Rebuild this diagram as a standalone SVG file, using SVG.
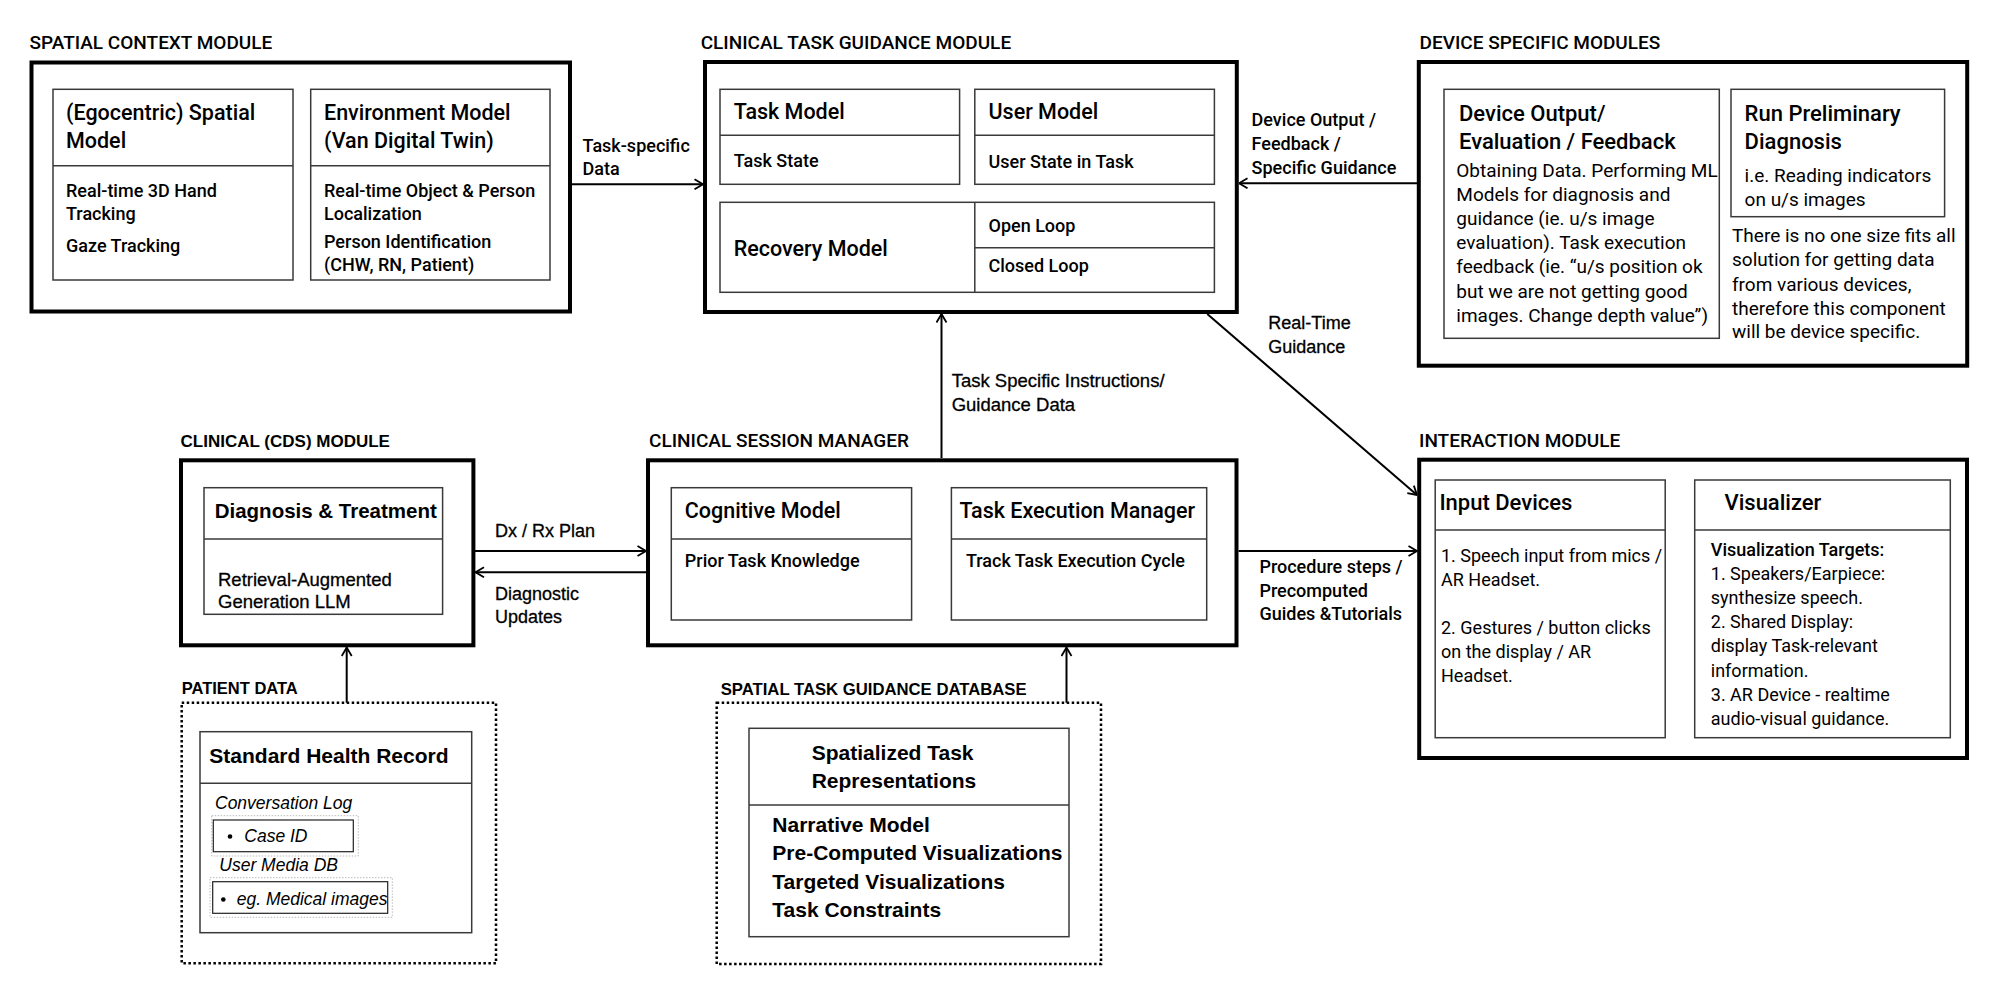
<svg xmlns="http://www.w3.org/2000/svg" width="2000" height="995" viewBox="0 0 2000 995">
<defs>
<marker id="arr" markerUnits="userSpaceOnUse" viewBox="0 0 10 12" refX="9.5" refY="6" markerWidth="10" markerHeight="12" orient="auto">
<path d="M1,1 L9.5,6 L1,11" fill="none" stroke="#000" stroke-width="1.8"/>
</marker>
</defs>
<style>
.outer{fill:#fff;stroke:#000;stroke-width:4}
.inner{fill:#fff;stroke:#3a3a3a;stroke-width:1.5}
.div{stroke:#3a3a3a;stroke-width:1.5;fill:none}
.dotted{fill:none;stroke:#000;stroke-width:2.5;stroke-dasharray:2.5 2.5}
.faint{fill:none;stroke:#bbb;stroke-width:1;stroke-dasharray:1.5 1.5}
.conn{stroke:#000;stroke-width:2;fill:none;marker-end:url(#arr)}
text{fill:#000}
.A{font-family:Roboto,"Liberation Sans",Arial,sans-serif}
.B{font-family:"Liberation Sans",Arial,Helvetica,sans-serif}
.ttl{font-size:19px;font-weight:500}
.ttlB{font-size:17px;font-weight:700}
.h{font-size:21.5px;font-weight:500}
.b{font-size:18px;font-weight:500}
.bl{font-size:19px;font-weight:400}
.lbl{font-size:18px;font-weight:500}
.hB{font-size:20.5px;font-weight:700}
.bB{font-size:18.5px;font-weight:400;stroke:#000;stroke-width:0.3}
.lB{font-size:18px;font-weight:400;stroke:#000;stroke-width:0.3}
.it{font-size:17.5px;font-style:italic;font-weight:400}
</style>

<g id="spatial-context-module">
<text class="A ttl" x="29.5" y="49.3">SPATIAL CONTEXT MODULE</text>
<rect class="outer" x="31.5" y="62.5" width="538.5" height="249"/>
<g id="egocentric-spatial-model">
<rect class="inner" x="53" y="89.3" width="240" height="190.7"/>
<line class="div" x1="53" y1="165.7" x2="293" y2="165.7"/>
<text class="A h" x="66" y="120">(Egocentric) Spatial</text>
<text class="A h" x="66" y="148.3">Model</text>
<text class="A b" x="66" y="196.7">Real-time 3D Hand</text>
<text class="A b" x="66" y="220">Tracking</text>
<text class="A b" x="66" y="252">Gaze Tracking</text>
</g>
<g id="environment-model">
<rect class="inner" x="310.7" y="89.3" width="239.3" height="190.7"/>
<line class="div" x1="310.7" y1="165.7" x2="550" y2="165.7"/>
<text class="A h" x="324" y="120">Environment Model</text>
<text class="A h" x="324" y="148.3">(Van Digital Twin)</text>
<text class="A b" x="324" y="196.7">Real-time Object &amp; Person</text>
<text class="A b" x="324" y="220">Localization</text>
<text class="A b" x="324" y="247.7">Person Identification</text>
<text class="A b" x="324" y="270.7">(CHW, RN, Patient)</text>
</g>
</g>

<g id="clinical-task-guidance-module">
<text class="A ttl" x="700.7" y="49.3">CLINICAL TASK GUIDANCE MODULE</text>
<rect class="outer" x="705" y="62" width="531.8" height="250"/>
<g id="task-model">
<rect class="inner" x="720" y="89.3" width="239.6" height="95"/>
<line class="div" x1="720" y1="135.3" x2="959.6" y2="135.3"/>
<text class="A h" x="733.7" y="119.3">Task Model</text>
<text class="A b" x="733.7" y="167.3">Task State</text>
</g>
<g id="user-model">
<rect class="inner" x="974.8" y="89.3" width="239.6" height="95"/>
<line class="div" x1="974.8" y1="135.3" x2="1214.4" y2="135.3"/>
<text class="A h" x="988.5" y="119.3">User Model</text>
<text class="A b" x="988.5" y="168">User State in Task</text>
</g>
<g id="recovery-model">
<rect class="inner" x="720" y="202.3" width="494.4" height="90"/>
<line class="div" x1="974.8" y1="202.3" x2="974.8" y2="292.3"/>
<line class="div" x1="974.8" y1="247.7" x2="1214.4" y2="247.7"/>
<text class="A h" x="733.7" y="256">Recovery Model</text>
<text class="A b" x="988.5" y="231.7">Open Loop</text>
<text class="A b" x="988.5" y="271.7">Closed Loop</text>
</g>
</g>

<g id="device-specific-modules">
<text class="A ttl" x="1419.5" y="49.3">DEVICE SPECIFIC MODULES</text>
<rect class="outer" x="1418.8" y="62" width="548.4" height="303.7"/>
<g id="device-output-evaluation">
<rect class="inner" x="1444" y="89.3" width="275.3" height="249"/>
<text class="A h" x="1459" y="120.7" style="font-size:22px">Device Output/</text>
<text class="A h" x="1459" y="149.3" style="font-size:22px">Evaluation / Feedback</text>
<text class="A bl" x="1456.3" y="176.7">Obtaining Data. Performing ML</text>
<text class="A bl" x="1456.3" y="201">Models for diagnosis and</text>
<text class="A bl" x="1456.3" y="225">guidance (ie. u/s image</text>
<text class="A bl" x="1456.3" y="249.3">evaluation). Task execution</text>
<text class="A bl" x="1456.3" y="273.3">feedback (ie. “u/s position ok</text>
<text class="A bl" x="1456.3" y="297.7">but we are not getting good</text>
<text class="A bl" x="1456.3" y="321.7">images. Change depth value”)</text>
</g>
<g id="run-preliminary-diagnosis">
<rect class="inner" x="1731" y="89.3" width="213.6" height="127.4"/>
<text class="A h" x="1744.6" y="120.7" style="font-size:22px">Run Preliminary</text>
<text class="A h" x="1744.6" y="149.3" style="font-size:22px">Diagnosis</text>
<text class="A bl" x="1744.6" y="182.3">i.e. Reading indicators</text>
<text class="A bl" x="1744.6" y="205.7">on u/s images</text>
</g>
<text class="A bl" x="1732" y="242.3">There is no one size fits all</text>
<text class="A bl" x="1732" y="266">solution for getting data</text>
<text class="A bl" x="1732" y="290.7">from various devices,</text>
<text class="A bl" x="1732" y="315">therefore this component</text>
<text class="A bl" x="1732" y="338.3">will be device specific.</text>
</g>

<g id="clinical-cds-module">
<text class="B ttlB" x="180.6" y="446.7">CLINICAL (CDS) MODULE</text>
<rect class="outer" x="181" y="460.3" width="292.4" height="185"/>
<g id="diagnosis-treatment">
<rect class="inner" x="204" y="487.7" width="238.6" height="126.6"/>
<line class="div" x1="204" y1="539" x2="442.6" y2="539"/>
<text class="B hB" x="214.7" y="518.3">Diagnosis &amp; Treatment</text>
<text class="B bB" x="218" y="585.7">Retrieval-Augmented</text>
<text class="B bB" x="218" y="608.3">Generation LLM</text>
</g>
</g>

<g id="clinical-session-manager">
<text class="A ttl" x="649" y="446.7">CLINICAL SESSION MANAGER</text>
<rect class="outer" x="648" y="460.3" width="588.5" height="185"/>
<g id="cognitive-model">
<rect class="inner" x="671.3" y="487.7" width="240.3" height="132.3"/>
<line class="div" x1="671.3" y1="539" x2="911.6" y2="539"/>
<text class="A h" x="684.8" y="518.3">Cognitive Model</text>
<text class="A b" x="684.8" y="567.3">Prior Task Knowledge</text>
</g>
<g id="task-execution-manager">
<rect class="inner" x="951.4" y="487.7" width="255.3" height="132.3"/>
<line class="div" x1="951.4" y1="539" x2="1206.7" y2="539"/>
<text class="A h" x="959.4" y="518.3">Task Execution Manager</text>
<text class="A b" x="965.9" y="567.3">Track Task Execution Cycle</text>
</g>
</g>

<g id="interaction-module">
<text class="A ttl" x="1419" y="446.7">INTERACTION MODULE</text>
<rect class="outer" x="1419.2" y="459.7" width="547.8" height="298.3"/>
<g id="input-devices">
<rect class="inner" x="1435.2" y="480" width="230" height="257.7"/>
<line class="div" x1="1435.2" y1="530" x2="1665.2" y2="530"/>
<text class="A h" x="1439.4" y="510" style="font-size:22px">Input Devices</text>
<text class="A bl" x="1441" y="561.7" style="font-size:18px">1. Speech input from mics /</text>
<text class="A bl" x="1441" y="585.7" style="font-size:18px">AR Headset.</text>
<text class="A bl" x="1441" y="634.3" style="font-size:18px">2. Gestures / button clicks</text>
<text class="A bl" x="1441" y="658.3" style="font-size:18px">on the display / AR</text>
<text class="A bl" x="1441" y="682.3" style="font-size:18px">Headset.</text>
</g>
<g id="visualizer">
<rect class="inner" x="1694.7" y="480" width="255.6" height="257.7"/>
<line class="div" x1="1694.7" y1="530" x2="1950.3" y2="530"/>
<text class="A h" x="1724.5" y="510" style="font-size:22px">Visualizer</text>
<text class="A b" x="1710.8" y="556">Visualization Targets:</text>
<text class="A bl" x="1710.8" y="580" style="font-size:18px">1. Speakers/Earpiece:</text>
<text class="A bl" x="1710.8" y="604.3" style="font-size:18px">synthesize speech.</text>
<text class="A bl" x="1710.8" y="628.3" style="font-size:18px">2. Shared Display:</text>
<text class="A bl" x="1710.8" y="652.3" style="font-size:18px">display Task-relevant</text>
<text class="A bl" x="1710.8" y="676.7" style="font-size:18px">information.</text>
<text class="A bl" x="1710.8" y="701" style="font-size:18px">3. AR Device - realtime</text>
<text class="A bl" x="1710.8" y="725" style="font-size:18px">audio-visual guidance.</text>
</g>
</g>

<g id="patient-data">
<text class="B ttlB" x="181.7" y="694.3" style="font-size:16.5px">PATIENT DATA</text>
<rect class="dotted" x="181.7" y="702.7" width="314.3" height="260.6"/>
<g id="standard-health-record">
<rect class="inner" x="200" y="731.7" width="271.7" height="201"/>
<line class="div" x1="200" y1="783.3" x2="471.7" y2="783.3"/>
<text class="B hB" x="209.3" y="763.3" style="font-size:21px">Standard Health Record</text>
<text class="B it" x="215" y="809.3">Conversation Log</text>
<rect class="faint" x="211.7" y="815.7" width="146.6" height="40.3"/>
<rect x="213.3" y="820" width="140" height="31.7" fill="none" stroke="#222" stroke-width="1.2"/>
<circle cx="230" cy="836.5" r="2.3" fill="#000"/>
<text class="B it" x="244.3" y="841.7">Case ID</text>
<text class="B it" x="219.3" y="871">User Media DB</text>
<rect class="faint" x="210" y="877.7" width="182.3" height="39.6"/>
<rect x="212.7" y="881.7" width="175" height="31.6" fill="none" stroke="#222" stroke-width="1.2"/>
<circle cx="223.3" cy="899.5" r="2.3" fill="#000"/>
<text class="B it" x="236.7" y="905">eg. Medical images</text>
</g>
</g>

<g id="spatial-task-guidance-database">
<text class="B ttlB" x="720.7" y="695" style="font-size:16.7px">SPATIAL TASK GUIDANCE DATABASE</text>
<rect class="dotted" x="716.7" y="702.7" width="384.3" height="261.3"/>
<g id="spatialized-task-representations">
<rect class="inner" x="749" y="728.3" width="320" height="208.4"/>
<line class="div" x1="749" y1="805" x2="1069" y2="805"/>
<text class="B hB" x="811.7" y="760" style="font-size:21px">Spatialized Task</text>
<text class="B hB" x="811.7" y="788.3" style="font-size:21px">Representations</text>
<text class="B hB" x="772.3" y="831.7" style="font-size:21px">Narrative Model</text>
<text class="B hB" x="772.3" y="860" style="font-size:21px">Pre-Computed Visualizations</text>
<text class="B hB" x="772.3" y="889.3" style="font-size:21px">Targeted Visualizations</text>
<text class="B hB" x="772.3" y="917.3" style="font-size:21px">Task Constraints</text>
</g>
</g>

<g id="connectors">
<line class="conn" x1="572" y1="184.3" x2="703" y2="184.3"/>
<line class="conn" x1="1417" y1="183.3" x2="1239" y2="183.3"/>
<line class="conn" x1="941.5" y1="458" x2="941.5" y2="314"/>
<line class="conn" x1="1207.3" y1="314" x2="1417" y2="495"/>
<line class="conn" x1="475" y1="551" x2="646" y2="551"/>
<line class="conn" x1="646" y1="572.3" x2="475.5" y2="572.3"/>
<line class="conn" x1="1238.5" y1="551" x2="1417" y2="551"/>
<line class="conn" x1="346.7" y1="702.7" x2="346.7" y2="647.5"/>
<line class="conn" x1="1066.5" y1="702.7" x2="1066.5" y2="647.5"/>
<text class="A lbl" x="582.6" y="151.7">Task-specific</text>
<text class="A lbl" x="582.6" y="175">Data</text>
<text class="A lbl" x="1251.6" y="126">Device Output /</text>
<text class="A lbl" x="1251.6" y="150">Feedback /</text>
<text class="A lbl" x="1251.6" y="174">Specific Guidance</text>
<text class="B lB" x="951.7" y="387.3" style="font-size:18.5px">Task Specific Instructions/</text>
<text class="B lB" x="951.7" y="410.7" style="font-size:18.5px">Guidance Data</text>
<text class="B lB" x="1268.3" y="329.3">Real-Time</text>
<text class="B lB" x="1268.3" y="353.3">Guidance</text>
<text class="B lB" x="495" y="536.7">Dx / Rx Plan</text>
<text class="B lB" x="495" y="600">Diagnostic</text>
<text class="B lB" x="495" y="623.3">Updates</text>
<text class="A lbl" x="1259.4" y="573.3">Procedure steps /</text>
<text class="A lbl" x="1259.4" y="596.7">Precomputed</text>
<text class="A lbl" x="1259.4" y="620">Guides &amp;Tutorials</text>
</g>
</svg>
